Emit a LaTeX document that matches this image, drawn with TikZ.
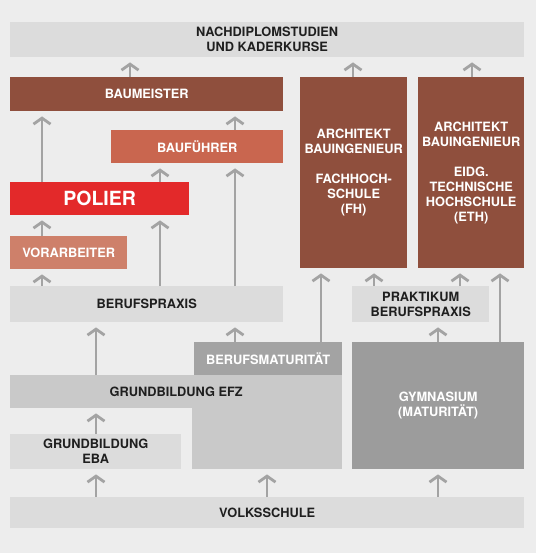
\documentclass[tikz,border=0pt]{standalone}
\usepackage{fontspec}
\setmainfont{TeX Gyre Heros}
\usepackage{tikz}
\usetikzlibrary{arrows.meta}
\definecolor{paperGrey}{HTML}{EDEDED}
\definecolor{lightGrey}{HTML}{DCDCDC}
\definecolor{efzGrey}{HTML}{C9C9C9}
\definecolor{midGrey}{HTML}{A3A3A3}
\definecolor{darkGrey}{HTML}{9C9C9C}
\definecolor{arrowGrey}{HTML}{A3A3A3}
\definecolor{textDark}{HTML}{1F1F1F}
\definecolor{brickBrown}{HTML}{8F4F3D}
\definecolor{rustRed}{HTML}{C9664F}
\definecolor{signalRed}{HTML}{E3292A}
\definecolor{salmonRed}{HTML}{CE806A}

\begin{document}
\begin{tikzpicture}[x=1bp,y=-1bp,
    box/.style={anchor=north west,inner sep=0pt,align=center,text=textDark,
      font=\bfseries\fontsize{12.8bp}{15bp}\selectfont},
    up/.style={draw=arrowGrey,line width=2.8bp,
      -{Straight Barb[length=6bp,width=17bp]},shorten >=5bp}]
    \fill[paperGrey] (0,0) rectangle (536,553);
    % weiterbildung
    \node[box,fill=lightGrey,minimum width=514bp,minimum height=35bp] (nachdiplom) at (10,22)
      {NACHDIPLOMSTUDIEN\\UND KADERKURSE};
    \node[box,fill=brickBrown,text=white,minimum width=273bp,minimum height=34bp] (baumeister) at (10,77) {BAUMEISTER};
    \node[box,fill=rustRed,text=white,minimum width=172bp,minimum height=33bp] (baufuehrer) at (111,130) {BAUFÜHRER};
    \node[box,fill=signalRed,text=white,minimum width=179bp,minimum height=33bp,
      font=\bfseries\fontsize{19.5bp}{22bp}\selectfont] (polier) at (10,182) {POLIER};
    \node[box,fill=salmonRed,text=white,minimum width=117bp,minimum height=33bp] (vorarbeiter) at (10,236) {VORARBEITER};
    \node[box,fill=brickBrown,text=white,minimum width=107bp,minimum height=191bp] (fh) at (300,77)
      {ARCHITEKT\\BAUINGENIEUR\\[15bp]FACHHOCH-\\SCHULE\\(FH)};
    \node[box,fill=brickBrown,text=white,minimum width=106bp,minimum height=191bp] (eth) at (418,77)
      {ARCHITEKT\\BAUINGENIEUR\\[15bp]EIDG.\\TECHNISCHE\\HOCHSCHULE\\(ETH)};
    % grundbildung
    \node[box,fill=lightGrey,minimum width=273bp,minimum height=36bp] (praxis) at (10,286) {BERUFSPRAXIS};
    \node[box,fill=lightGrey,minimum width=137bp,minimum height=36bp] (praktikum) at (352,286)
      {PRAKTIKUM\\BERUFSPRAXIS};
    \node[box,fill=efzGrey,minimum width=150bp,minimum height=61bp] (efzfoot) at (192,408) {};
    \node[box,fill=midGrey,text=white,minimum width=148bp,minimum height=33bp] (bms) at (194,342) {BERUFSMATURITÄT};
    \node[box,fill=efzGrey,minimum width=332bp,minimum height=33bp] (efz) at (10,375) {GRUNDBILDUNG EFZ};
    \node[box,fill=lightGrey,minimum width=171bp,minimum height=35bp] (eba) at (10,434) {GRUNDBILDUNG\\EBA};
    \node[box,fill=darkGrey,text=white,minimum width=172bp,minimum height=127bp] (gym) at (352,342)
      {GYMNASIUM\\(MATURITÄT)};
    \node[box,fill=lightGrey,minimum width=514bp,minimum height=31bp] (volk) at (10,497) {VOLKSSCHULE};
    % pfeile
    \foreach \x/\from/\to in {130/baumeister/nachdiplom,353/fh/nachdiplom,472/eth/nachdiplom,
        42/polier/baumeister,235/baufuehrer/baumeister,160/polier/baufuehrer,42/vorarbeiter/polier,
        160/praxis/polier,235/praxis/baufuehrer,42/praxis/vorarbeiter,321/bms/fh,374/praktikum/fh,
        460/praktikum/eth,500/gym/eth,438/gym/praktikum,235/bms/praxis,96/efz/praxis,96/eba/efz,
        96/volk/eba,267/volk/efzfoot,438/volk/gym}
      {\draw[up] (\x,0 |- \from.north) -- (\x,0 |- \to.south);}
  \end{tikzpicture}
\end{document}
